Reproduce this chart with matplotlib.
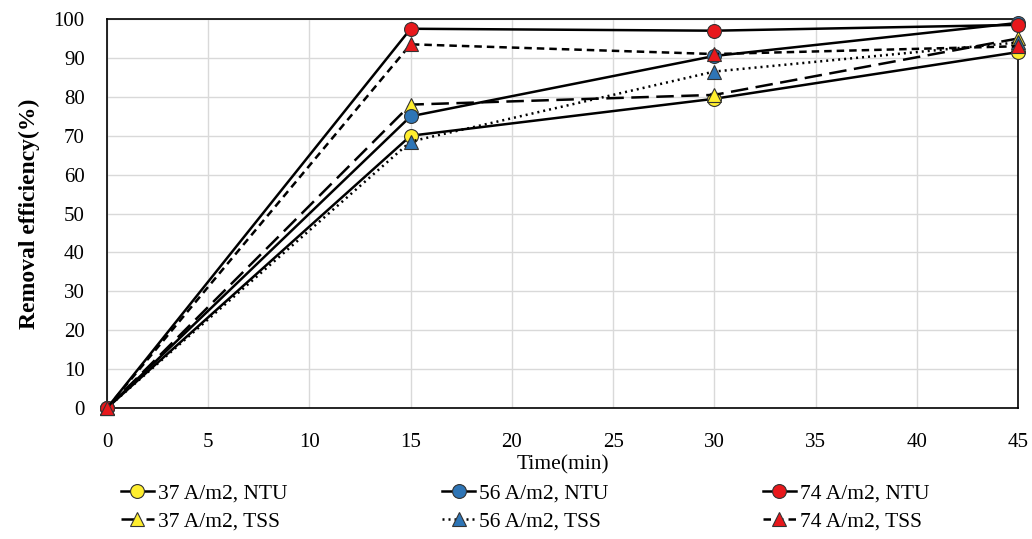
import matplotlib
matplotlib.use("Agg")
import matplotlib.pyplot as plt

plt.rcParams['font.family'] = ['Liberation Serif', 'DejaVu Serif']

time = [0, 15, 30, 45]

ntu_37 = [0, 70, 79.5, 91.5]
ntu_56 = [0, 75, 90.5, 99]
ntu_74 = [0, 97.5, 97, 98.5]
tss_37 = [0, 78, 80.5, 95]
tss_56 = [0, 68.5, 86.5, 94]
tss_74 = [0, 93.5, 91, 93]

labels = ['37 A/m2, NTU', '37 A/m2, TSS', '56 A/m2, NTU',
          '56 A/m2, TSS', '74 A/m2, NTU', '74 A/m2, TSS']

yellow = '#ffee2e'
blue = '#2e75b6'
red = '#e8181c'

fig = plt.figure(figsize=(10.32, 5.39), dpi=100)
ax = fig.add_axes([0.1037, 0.243, 0.8827, 0.7217])

# (values, marker, colour, linestyle)
series = [
    (ntu_37, 'o', yellow, '-'),
    (tss_37, '^', yellow, (0, (7, 3))),
    (ntu_56, 'o', blue, '-'),
    (tss_56, '^', blue, (0, (0.8, 1.6))),
    (ntu_74, 'o', red, '-'),
    (tss_74, '^', red, (0, (3, 2))),
]

handles = []
for (vals, mk, col, ls), lab in zip(series, labels):
    h, = ax.plot(time, vals, color='black', lw=1.8, linestyle=ls,
                 marker=mk, markersize=10, markerfacecolor=col,
                 markeredgecolor='#333333', markeredgewidth=0.8,
                 label=lab, clip_on=False, zorder=3)
    handles.append(h)

ax.set_xlim(0, 45)
ax.set_ylim(0, 100)
ax.set_xticks(range(0, 46, 5))
ax.set_yticks(range(0, 101, 10))
ax.grid(True, color='#d9d9d9', lw=1)
ax.set_axisbelow(True)
for sp in ax.spines.values():
    sp.set_color('black')
    sp.set_linewidth(1.2)
ax.tick_params(axis='x', length=0, labelsize=15, pad=18)
ax.tick_params(axis='y', length=0, labelsize=15, pad=16)

ax.set_xlabel('Time(min)', fontsize=15.5, labelpad=2)
ax.set_ylabel('Removal efficiency(%)', fontsize=17, fontweight='bold', labelpad=10)

fig.legend(handles=handles, labels=labels, ncol=3, loc='lower left',
           bbox_to_anchor=(0.105, -0.01), frameon=False, fontsize=15.5,
           handlelength=1.5, handletextpad=0.2, columnspacing=7.2,
           labelspacing=0.35, borderaxespad=0.2)

fig.savefig('out.png', dpi=100)
